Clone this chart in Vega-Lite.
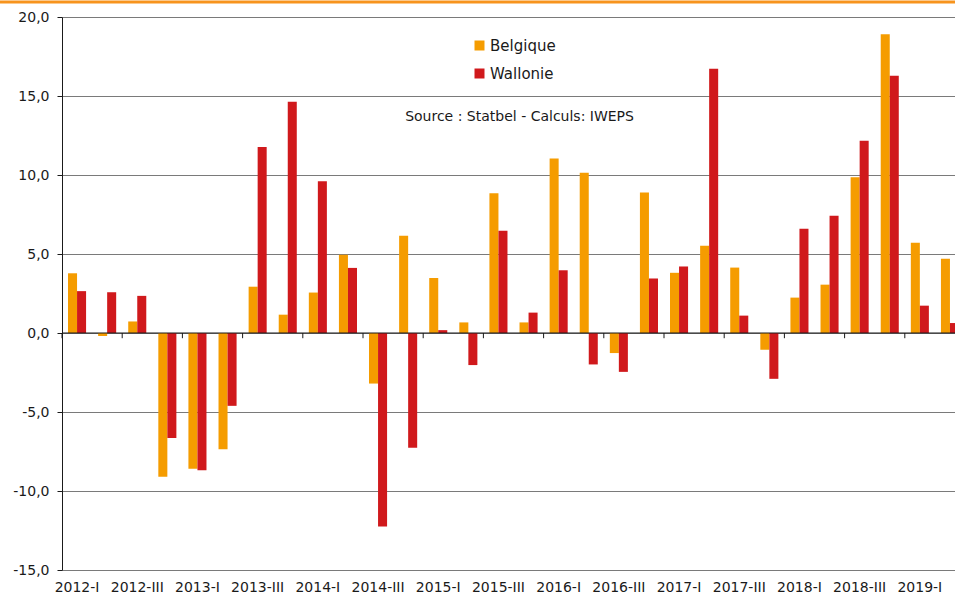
{
  "$schema": "https://vega.github.io/schema/vega-lite/v6.json",
  "autosize": "none",
  "width": 893,
  "height": 553,
  "padding": {"left": 62, "top": 17, "right": 0, "bottom": 25},
  "background": "white",
  "data": {
    "values": [
      {"quarter": "2012-I", "region": "Belgique", "value": 3.78},
      {"quarter": "2012-I", "region": "Wallonie", "value": 2.65},
      {"quarter": "2012-II", "region": "Belgique", "value": -0.19},
      {"quarter": "2012-II", "region": "Wallonie", "value": 2.58},
      {"quarter": "2012-III", "region": "Belgique", "value": 0.73},
      {"quarter": "2012-III", "region": "Wallonie", "value": 2.35},
      {"quarter": "2012-IV", "region": "Belgique", "value": -9.1},
      {"quarter": "2012-IV", "region": "Wallonie", "value": -6.64},
      {"quarter": "2013-I", "region": "Belgique", "value": -8.59},
      {"quarter": "2013-I", "region": "Wallonie", "value": -8.69},
      {"quarter": "2013-II", "region": "Belgique", "value": -7.36},
      {"quarter": "2013-II", "region": "Wallonie", "value": -4.61},
      {"quarter": "2013-III", "region": "Belgique", "value": 2.93},
      {"quarter": "2013-III", "region": "Wallonie", "value": 11.78},
      {"quarter": "2013-IV", "region": "Belgique", "value": 1.16},
      {"quarter": "2013-IV", "region": "Wallonie", "value": 14.63},
      {"quarter": "2014-I", "region": "Belgique", "value": 2.56},
      {"quarter": "2014-I", "region": "Wallonie", "value": 9.6},
      {"quarter": "2014-II", "region": "Belgique", "value": 4.95},
      {"quarter": "2014-II", "region": "Wallonie", "value": 4.12},
      {"quarter": "2014-III", "region": "Belgique", "value": -3.2},
      {"quarter": "2014-III", "region": "Wallonie", "value": -12.25},
      {"quarter": "2014-IV", "region": "Belgique", "value": 6.15},
      {"quarter": "2014-IV", "region": "Wallonie", "value": -7.26},
      {"quarter": "2015-I", "region": "Belgique", "value": 3.48},
      {"quarter": "2015-I", "region": "Wallonie", "value": 0.18},
      {"quarter": "2015-II", "region": "Belgique", "value": 0.67},
      {"quarter": "2015-II", "region": "Wallonie", "value": -2.03},
      {"quarter": "2015-III", "region": "Belgique", "value": 8.84},
      {"quarter": "2015-III", "region": "Wallonie", "value": 6.47},
      {"quarter": "2015-IV", "region": "Belgique", "value": 0.67},
      {"quarter": "2015-IV", "region": "Wallonie", "value": 1.29},
      {"quarter": "2016-I", "region": "Belgique", "value": 11.04},
      {"quarter": "2016-I", "region": "Wallonie", "value": 3.97},
      {"quarter": "2016-II", "region": "Belgique", "value": 10.15},
      {"quarter": "2016-II", "region": "Wallonie", "value": -1.99},
      {"quarter": "2016-III", "region": "Belgique", "value": -1.27},
      {"quarter": "2016-III", "region": "Wallonie", "value": -2.46},
      {"quarter": "2016-IV", "region": "Belgique", "value": 8.9},
      {"quarter": "2016-IV", "region": "Wallonie", "value": 3.45},
      {"quarter": "2017-I", "region": "Belgique", "value": 3.81},
      {"quarter": "2017-I", "region": "Wallonie", "value": 4.21},
      {"quarter": "2017-II", "region": "Belgique", "value": 5.52},
      {"quarter": "2017-II", "region": "Wallonie", "value": 16.73},
      {"quarter": "2017-III", "region": "Belgique", "value": 4.14},
      {"quarter": "2017-III", "region": "Wallonie", "value": 1.1},
      {"quarter": "2017-IV", "region": "Belgique", "value": -1.06},
      {"quarter": "2017-IV", "region": "Wallonie", "value": -2.9},
      {"quarter": "2018-I", "region": "Belgique", "value": 2.24},
      {"quarter": "2018-I", "region": "Wallonie", "value": 6.6},
      {"quarter": "2018-II", "region": "Belgique", "value": 3.06},
      {"quarter": "2018-II", "region": "Wallonie", "value": 7.42},
      {"quarter": "2018-III", "region": "Belgique", "value": 9.85},
      {"quarter": "2018-III", "region": "Wallonie", "value": 12.16},
      {"quarter": "2018-IV", "region": "Belgique", "value": 18.91},
      {"quarter": "2018-IV", "region": "Wallonie", "value": 16.28},
      {"quarter": "2019-I", "region": "Belgique", "value": 5.71},
      {"quarter": "2019-I", "region": "Wallonie", "value": 1.73},
      {"quarter": "2019-II", "region": "Belgique", "value": 4.7},
      {"quarter": "2019-II", "region": "Wallonie", "value": 0.63}
    ]
  },
  "layer": [
    {
      "layer": [
        {
          "mark": {"type": "bar", "clip": true},
          "encoding": {
            "x": {
              "field": "quarter", "type": "nominal", "sort": null,
              "scale": {"range": [0, 903], "paddingInner": 0, "paddingOuter": 0},
              "axis": {
                "title": null, "domain": false, "ticks": false, "labelAngle": 0,
                "labelPadding": 10, "labelFontSize": 14, "labelColor": "#1a1a1a",
                "values": ["2012-I", "2012-III", "2013-I", "2013-III", "2014-I", "2014-III", "2015-I", "2015-III", "2016-I", "2016-III", "2017-I", "2017-III", "2018-I", "2018-III", "2019-I"]
              }
            },
            "xOffset": {
              "field": "region", "type": "nominal",
              "scale": {"paddingInner": 0, "paddingOuter": 0.667}
            },
            "y": {
              "field": "value", "type": "quantitative",
              "scale": {"domain": [-15, 20], "nice": false, "zero": false},
              "axis": {
                "title": null, "values": [-15, -10, -5, 0, 5, 10, 15, 20],
                "labelExpr": "replace(replace(format(datum.value, '.1f'), '.', ','), '\u2212', '-')",
                "grid": true, "gridColor": "#7a7a7a", "gridWidth": 1,
                "domainColor": "#1a1a1a", "tickColor": "#1a1a1a", "tickSize": 5,
                "labelPadding": 8, "labelFontSize": 14, "labelColor": "#1a1a1a"
              }
            },
            "color": {
              "field": "region", "type": "nominal",
              "scale": {"domain": ["Belgique", "Wallonie"], "range": ["#F59C00", "#D0191C"]},
              "legend": {
                "orient": "none", "legendX": 410, "legendY": 21, "title": null,
                "symbolType": "square", "symbolSize": 100, "symbolStrokeWidth": 0,
                "labelFontSize": 15, "labelColor": "#1a1a1a", "rowPadding": 12, "labelOffset": 3
              }
            }
          }
        },
        {
          "data": {"values": [{}]},
          "mark": {"type": "rule", "color": "#1a1a1a", "strokeWidth": 1},
          "encoding": {"y": {"datum": 0, "type": "quantitative"}}
        },
        {
          "data": {"values": [
            {"quarter": "2012-I"}, {"quarter": "2012-III"}, {"quarter": "2013-I"}, {"quarter": "2013-III"},
            {"quarter": "2014-I"}, {"quarter": "2014-III"}, {"quarter": "2015-I"}, {"quarter": "2015-III"},
            {"quarter": "2016-I"}, {"quarter": "2016-III"}, {"quarter": "2017-I"}, {"quarter": "2017-III"},
            {"quarter": "2018-I"}, {"quarter": "2018-III"}, {"quarter": "2019-I"}
          ]},
          "mark": {"type": "rule", "color": "#1a1a1a", "strokeWidth": 1},
          "encoding": {
            "x": {"field": "quarter", "type": "nominal", "bandPosition": 0},
            "y": {"datum": 0, "type": "quantitative"},
            "y2": {"datum": -0.33}
          }
        },
        {
          "data": {"values": [{"note": "Source : Statbel - Calculs: IWEPS"}]},
          "mark": {"type": "text", "fontSize": 14, "color": "#1a1a1a", "baseline": "middle", "align": "center", "dx": -9},
          "encoding": {
            "text": {"field": "note", "type": "nominal"},
            "x": {"datum": "2015-IV", "type": "nominal"},
            "y": {"datum": 13.7, "type": "quantitative"}
          }
        }
      ]
    },
    {
      "data": {"values": [{}]},
      "mark": {"type": "rule", "clip": false, "color": "#F7941D", "strokeWidth": 3},
      "encoding": {
        "x": {"datum": -0.07, "type": "quantitative", "scale": {"domain": [0, 1]}, "axis": null},
        "x2": {"datum": 1.01},
        "y": {"datum": 20.95, "type": "quantitative"}
      }
    }
  ],
  "resolve": {"scale": {"x": "independent"}, "axis": {"x": "independent"}},
  "config": {
    "font": "DejaVu Sans",
    "view": {"stroke": null}
  }
}
